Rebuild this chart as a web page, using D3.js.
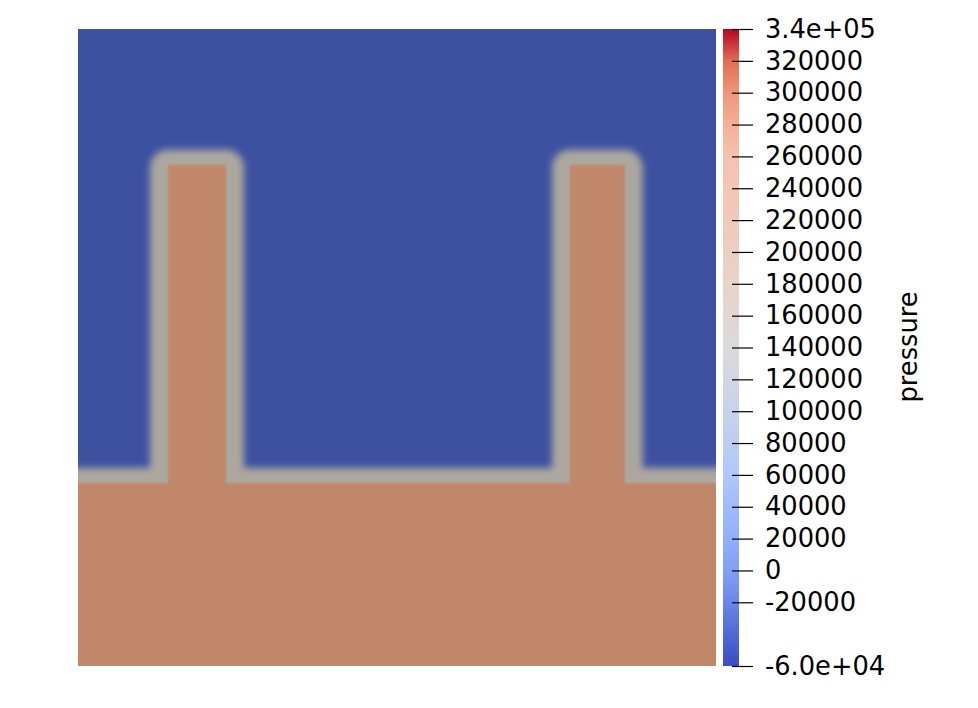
<!DOCTYPE html>
<html><head><meta charset="utf-8">
<script src="https://cdn.jsdelivr.net/npm/d3@7"></script>
<style>body{margin:0;background:#fff}svg{display:block}</style>
</head><body>
<svg id="chart" width="978" height="708"></svg>
<script>
// ---- data ----
const pressureRange = [-60000, 340000];
const tickValues = [-60000, -20000, 0, 20000, 40000, 60000, 80000, 100000, 120000, 140000, 160000, 180000, 200000, 220000, 240000, 260000, 280000, 300000, 320000, 340000];
const tickLabels = ["-6.0e+04", "-20000", "0", "20000", "40000", "60000", "80000", "100000", "120000", "140000", "160000", "180000", "200000", "220000", "240000", "260000", "280000", "300000", "320000", "3.4e+05"];
// colour map control points (fraction of range -> colour)
const cmapPositions = [0, 0.05, 0.1, 0.15, 0.2, 0.3, 0.4, 0.5, 0.6, 0.7, 0.8, 0.85, 0.9, 0.95, 1];
const cmapColors = ["#3b4cc0", "#5069d7", "#6987eb", "#82a0f5", "#91affa", "#afc8fa", "#c8d2eb", "#dadada", "#e8d4c8", "#f2c8b9", "#f5c3af", "#f5af96", "#f09678", "#e16e55", "#b40426"];
// Field geometry (domain units, 0..1) : liquid base layer and two pillars
const baseTop = 0.287;
const pillarLeft = [0.141, 0.771];
const pillarRight = [0.232, 0.857];
const pillarTop = [0.7865, 0.7865];
const interfaceHalfX = 0.028;
const interfaceHalfY = 0.024;
// phases as displayed (gas, interface, liquid) -> shaded colours
const phaseNames = ["gas", "interface", "liquid"];
const phaseColors = ["#3e51a1", "#aca79f", "#c0876a"];

// ---- layout ----
const svg = d3.select("#chart");
const plot = {x0: 78, x1: 716, y0: 29, y1: 666};
const x = d3.scaleLinear().domain([0, 1]).range([plot.x0, plot.x1]);
const y = d3.scaleLinear().domain([0, 1]).range([plot.y1, plot.y0]);
const phaseColor = d3.scaleOrdinal().domain(phaseNames).range(phaseColors);

const defs = svg.append("defs");
defs.append("clipPath").attr("id", "plotClip")
  .append("rect").attr("x", plot.x0).attr("y", plot.y0)
  .attr("width", plot.x1 - plot.x0).attr("height", plot.y1 - plot.y0);
function blurFilter(id, sd) {
  defs.append("filter").attr("id", id).attr("filterUnits", "userSpaceOnUse")
    .attr("x", 0).attr("y", 0).attr("width", 978).attr("height", 708)
    .append("feGaussianBlur").attr("stdDeviation", sd);
}
blurFilter("bandBlur", 3.6);
blurFilter("coreBlur", 1.3);

const field = svg.append("g").attr("clip-path", "url(#plotClip)");
field.append("rect").attr("x", x(-0.1)).attr("y", y(1.1))
  .attr("width", x(1.2) - x(0)).attr("height", y(0) - y(1.2))
  .attr("fill", phaseColor("gas"));

const pillars = pillarLeft.map((l, i) => ({l, r: pillarRight[i], t: pillarTop[i]}));

// interface band
const band = field.append("g").attr("filter", "url(#bandBlur)").attr("fill", phaseColor("interface"));
band.append("rect").attr("x", x(-0.1)).attr("y", y(baseTop + interfaceHalfY))
  .attr("width", x(1.2) - x(0)).attr("height", y(-0.1) - y(baseTop + interfaceHalfY));
band.selectAll("rect.p").data(pillars).join("rect").attr("class", "p")
  .attr("x", d => x(d.l - interfaceHalfX))
  .attr("y", d => y(d.t + interfaceHalfY))
  .attr("width", d => x(d.r + interfaceHalfX) - x(d.l - interfaceHalfX))
  .attr("height", d => y(0) - y(d.t + interfaceHalfY))
  .attr("rx", x(interfaceHalfX) - x(0));

// liquid core
const core = field.append("g").attr("filter", "url(#coreBlur)").attr("fill", phaseColor("liquid"));
core.append("rect").attr("x", x(-0.1)).attr("y", y(baseTop))
  .attr("width", x(1.2) - x(0)).attr("height", y(-0.1) - y(baseTop));
core.selectAll("rect.p").data(pillars).join("rect").attr("class", "p")
  .attr("x", d => x(d.l)).attr("y", d => y(d.t))
  .attr("width", d => x(d.r) - x(d.l))
  .attr("height", d => y(0) - y(d.t));

// ---- colour bar ----
const bar = {x0: 723, x1: 739, y0: 29, y1: 666};
const py = d3.scaleLinear().domain(pressureRange).range([bar.y1, bar.y0]);
const grad = defs.append("linearGradient").attr("id", "cbar")
  .attr("x1", 0).attr("y1", 1).attr("x2", 0).attr("y2", 0);
grad.selectAll("stop").data(cmapPositions).join("stop")
  .attr("offset", d => d).attr("stop-color", (d, i) => cmapColors[i]);
svg.append("rect").attr("x", bar.x0).attr("y", bar.y0)
  .attr("width", bar.x1 - bar.x0).attr("height", bar.y1 - bar.y0)
  .attr("fill", "url(#cbar)");

const labelFor = d3.scaleOrdinal().domain(tickValues).range(tickLabels);
const shownTicks = tickValues.filter(v => v !== -40000);
const axis = d3.axisRight(py).tickValues(shownTicks).tickSize(21).tickPadding(12)
  .tickFormat(v => labelFor(v));
const ag = svg.append("g").attr("transform", `translate(${732},0)`).call(axis);
ag.select(".domain").remove();
ag.selectAll(".tick line").attr("stroke", "#000").attr("stroke-width", 1.2);
ag.selectAll(".tick text").attr("fill", "#000")
  .style("font-family", "'DejaVu Sans', sans-serif").style("font-size", "25.7px");

svg.append("text").attr("transform", "translate(917,347) rotate(-90)")
  .attr("text-anchor", "middle")
  .style("font-family", "'DejaVu Sans', sans-serif").style("font-size", "25.7px")
  .text("pressure");
</script>
</body></html>
